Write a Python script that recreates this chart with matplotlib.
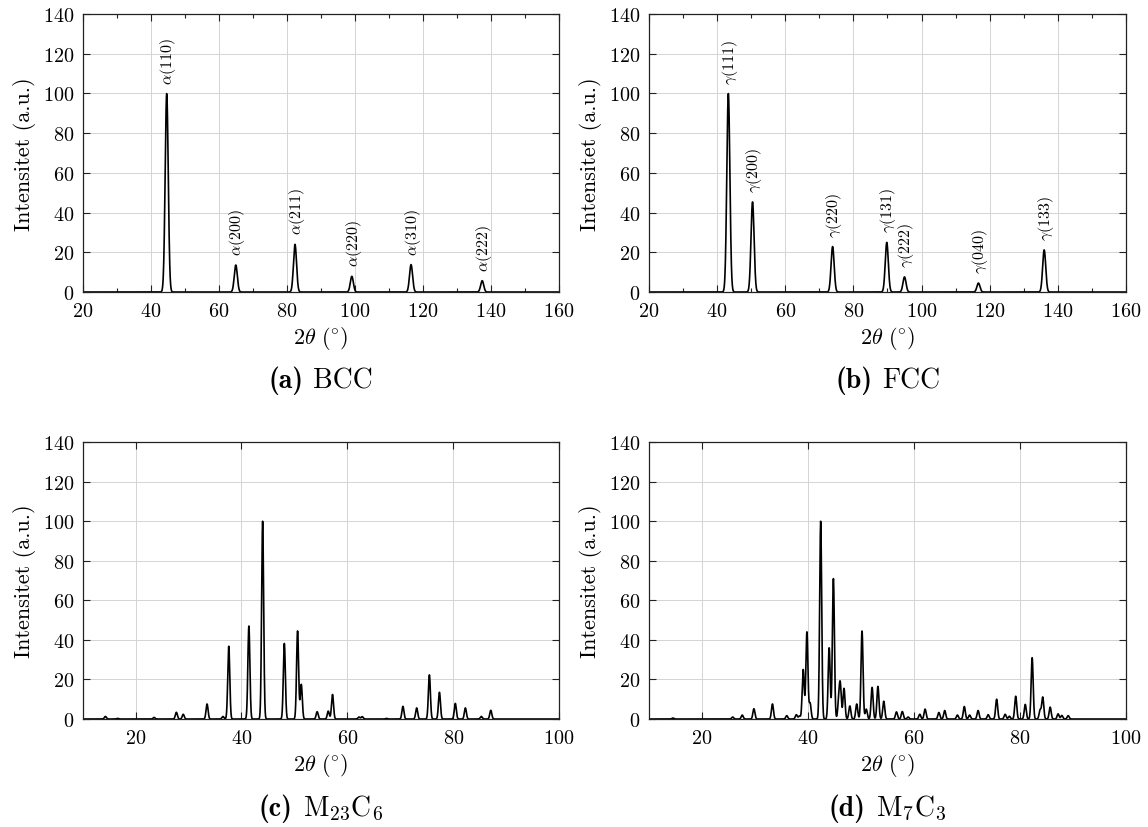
import matplotlib
matplotlib.use('Agg')
import matplotlib.pyplot as plt
import matplotlib.ticker as mticker
from matplotlib.offsetbox import TextArea, HPacker, AnnotationBbox
import numpy as np

plt.rcParams['font.family'] = 'serif'
plt.rcParams['font.serif'] = ['cmr10']
plt.rcParams['mathtext.fontset'] = 'cm'
plt.rcParams['axes.formatter.use_mathtext'] = True
plt.rcParams['axes.unicode_minus'] = False

# ==================== DATA ====================
# (a) BCC ferrite
bcc_pos = [44.7, 65.0, 82.4, 99.1, 116.5, 137.4]
bcc_int = [100, 13.6, 24.0, 7.9, 13.8, 5.7]
bcc_hkl = ['110', '200', '211', '220', '310', '222']

# (b) FCC austenite
fcc_pos = [43.3, 50.4, 73.9, 89.8, 95.0, 116.7, 136.0]
fcc_int = [100, 45.4, 22.9, 25.0, 7.6, 4.5, 21.2]
fcc_hkl = ['111', '200', '220', '131', '222', '040', '133']

# (c) M23C6
m23_pos = [14.3, 16.6, 23.5, 27.7, 29.0, 33.5, 36.5, 37.6, 41.4, 44.0, 48.1,
           50.6, 51.3, 54.3, 56.4, 57.2, 62.2, 62.8, 67.4, 70.5, 73.1, 75.5,
           77.4, 80.4, 82.3, 85.3, 87.1]
m23_int = [1.3, 0.3, 0.8, 3.4, 2.4, 7.6, 1.3, 36.8, 47.0, 100, 38.2,
           44.5, 17.5, 3.7, 4.0, 12.4, 1.0, 1.2, 0.3, 6.4, 5.6, 22.3,
           13.5, 7.9, 5.6, 1.3, 4.4]

# (d) M7C3
m7_pos = [14.5, 25.8, 27.6, 29.8, 33.3, 36.0, 37.8, 38.4, 39.1, 39.8, 40.4,
          42.4, 44.0, 44.8, 45.8, 46.1, 46.8, 47.9, 49.2, 50.2, 51.0, 52.1,
          53.2, 54.3, 56.7, 57.8, 58.9, 61.1, 62.1, 64.7, 65.8, 68.2, 69.5,
          70.5, 72.1, 74.0, 75.6, 77.2, 78.0, 79.2, 81.0, 82.3, 83.8, 84.3,
          85.7, 87.2, 87.9, 89.1]
m7_int = [0.5, 1.0, 2.0, 5.2, 7.6, 1.7, 2.2, 1.5, 25.0, 44.0, 8.0,
          100, 36.0, 71.0, 8.0, 16.5, 15.5, 6.6, 7.6, 44.5, 5.0, 16.0,
          16.5, 9.0, 3.6, 3.8, 1.0, 2.4, 5.0, 3.3, 4.3, 2.0, 6.3,
          2.0, 4.3, 2.2, 10.0, 2.4, 1.4, 11.5, 7.4, 31.0, 4.5, 11.0,
          6.0, 2.6, 1.8, 1.7]

cap_tags = ['(a)', '(b)', '(c)', '(d)']
cap_names = ['BCC', 'FCC', r'$\mathrm{M}_{23}\mathrm{C}_{6}$',
             r'$\mathrm{M}_{7}\mathrm{C}_{3}$']


def profile(x, pos, heights, sigma):
    # gaussian broadening of the stick pattern
    y = np.zeros_like(x)
    for p, h in zip(pos, heights):
        y += h * np.exp(-0.5 * ((x - p) / sigma) ** 2)
    return y


fig = plt.figure(figsize=(11.48, 8.28), dpi=100)
ax_pos = [
    [0.072, 0.6461, 0.415, 0.3357],
    [0.5653, 0.6461, 0.4155, 0.3357],
    [0.072, 0.1304, 0.415, 0.3345],
    [0.5653, 0.1304, 0.4155, 0.3345],
]
axes = [fig.add_axes(p) for p in ax_pos]


def style(ax, xlim, minor):
    ax.set_xlim(*xlim)
    ax.set_ylim(0, 140)
    ax.xaxis.set_major_locator(mticker.MultipleLocator(20))
    if minor:
        ax.xaxis.set_minor_locator(mticker.MultipleLocator(10))
    ax.yaxis.set_major_locator(mticker.MultipleLocator(20))
    ax.tick_params(which='both', direction='in', top=True, right=True,
                   labelsize=14.5, color='#222222')
    ax.tick_params(axis='x', pad=7)
    ax.tick_params(axis='y', pad=6)
    ax.tick_params(which='major', length=5, width=0.8)
    ax.tick_params(which='minor', length=3, width=0.8)
    ax.grid(True, which='major', color='#d4d4d4', linewidth=0.7)
    ax.set_axisbelow(True)
    for s in ax.spines.values():
        s.set_color('#222222')
        s.set_linewidth(0.9)
    ax.set_ylabel('Intensitet (a.u.)', fontsize=16, labelpad=5)
    ax.set_xlabel(r'$2\theta\ (^{\circ})$', fontsize=16, labelpad=3)


# (a)
ax = axes[0]
x = np.linspace(20, 160, 4000)
ax.plot(x, profile(x, bcc_pos, bcc_int, 0.45), color='k', lw=1.2)
for p, h, t in zip(bcc_pos, bcc_int, bcc_hkl):
    ax.text(p + 0.5, h + 5.0, r'$\alpha$(' + t + ')', rotation=90,
            ha='center', va='bottom', fontsize=11.5)
style(ax, (20, 160), True)

# (b)
ax = axes[1]
ax.plot(x, profile(x, fcc_pos, fcc_int, 0.45), color='k', lw=1.2)
for p, h, t in zip(fcc_pos, fcc_int, fcc_hkl):
    ax.text(p + 0.5, h + 5.0, r'$\gamma$(' + t + ')', rotation=90,
            ha='center', va='bottom', fontsize=11.5)
style(ax, (20, 160), True)

# (c)
ax = axes[2]
x2 = np.linspace(10, 100, 6000)
ax.plot(x2, profile(x2, m23_pos, m23_int, 0.19), color='k', lw=1.2)
style(ax, (10, 100), False)

# (d)
ax = axes[3]
ax.plot(x2, profile(x2, m7_pos, m7_int, 0.19), color='k', lw=1.2)
style(ax, (10, 100), False)

# sub-captions: bold tag + normal name
cap_y = [0.54, 0.54, 0.024, 0.024]
for ax, tag, name, cy in zip(axes, cap_tags, cap_names, cap_y):
    b = ax.get_position()
    box = HPacker(children=[
        TextArea(tag, textprops=dict(family='cmb10', fontsize=20)),
        TextArea(name, textprops=dict(family='cmr10', fontsize=20)),
    ], align='baseline', pad=0, sep=7)
    ab = AnnotationBbox(box, (b.x0 + b.width / 2, cy), xycoords='figure fraction',
                        box_alignment=(0.5, 0.5), frameon=False)
    fig.add_artist(ab)

plt.savefig('out.png', dpi=100, facecolor='white')
plt.close()
